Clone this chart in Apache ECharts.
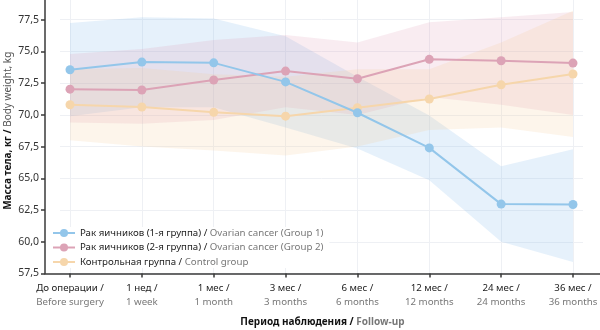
<!DOCTYPE html>
<html>
<head>
<meta charset="utf-8">
<script src="https://cdn.jsdelivr.net/npm/echarts@6/dist/echarts.min.js"></script>
<style>
html,body{margin:0;padding:0;background:#fff;}
#c{width:600px;height:330px;}
</style>
</head>
<body>
<div id="c"></div>
<script>
// ---- data ----
const catRu = ['До операции /', '1 нед /', '1 мес /', '3 мес /', '6 мес /', '12 мес /', '24 мес /', '36 мес /'];
const catEn = ['Before surgery', '1 week', '1 month', '3 months', '6 months', '12 months', '24 months', '36 months'];

const g1Mean = [73.56, 74.16, 74.10, 72.60, 70.17, 67.40, 62.97, 62.94];
const g1Low  = [69.90, 70.60, 70.60, 69.00, 67.35, 64.85, 60.00, 58.40];
const g1High = [77.25, 77.70, 77.60, 76.20, 73.00, 69.95, 65.95, 67.30];

const g2Mean = [72.03, 71.96, 72.75, 73.45, 72.85, 74.38, 74.27, 74.08];
const g2Low  = [69.40, 69.30, 69.60, 70.60, 70.00, 71.40, 70.80, 70.00];
const g2High = [74.80, 75.20, 75.90, 76.30, 75.70, 77.30, 77.70, 78.10];

const g3Mean = [70.80, 70.62, 70.20, 69.90, 70.56, 71.25, 72.37, 73.22];
const g3Low  = [68.00, 67.50, 67.20, 66.80, 67.50, 68.80, 69.00, 68.25];
const g3High = [73.60, 73.70, 73.20, 73.00, 73.60, 73.60, 75.70, 78.20];

const seriesRu = ['Рак яичников (1-я группа)', 'Рак яичников (2-я группа)', 'Контрольная группа'];
const seriesEn = ['Ovarian cancer (Group 1)', 'Ovarian cancer (Group 2)', 'Control group'];

const yTicks = [57.5, 60, 62.5, 65, 67.5, 70, 72.5, 75, 77.5];

// ---- styling ----
const FONT = 'Noto Sans';
const FS = 9.7;
const lineColors = ['#93c6ea', '#dca3b6', '#f6d6ab'];
const bandColors = ['rgba(120,180,235,0.19)', 'rgba(220,140,170,0.17)', 'rgba(245,200,150,0.19)'];

const means = [g1Mean, g2Mean, g3Mean];
const lows = [g1Low, g2Low, g3Low];
const highs = [g1High, g2High, g3High];

const Y_MIN = 57.5, Y_MAX = 80;
const TOP = -12, BOTTOM = 56.5;

const series = [];
for (let i = 0; i < 3; i++) {
  series.push({
    type: 'line', xAxisIndex: 2, yAxisIndex: 2, stack: 'band' + i,
    data: lows[i], symbol: 'none', lineStyle: {opacity: 0}, silent: true, z: 1
  });
  series.push({
    type: 'line', xAxisIndex: 2, yAxisIndex: 2, stack: 'band' + i,
    data: highs[i].map((h, k) => +(h - lows[i][k]).toFixed(3)),
    symbol: 'none', lineStyle: {opacity: 0},
    areaStyle: {color: bandColors[i], opacity: 1}, silent: true, z: 1
  });
}
const meanOrder = [2, 1, 0];
for (const i of meanOrder) {
  series.push({
    name: seriesRu[i], type: 'line', xAxisIndex: 2, yAxisIndex: 2,
    data: means[i], symbol: 'circle', symbolSize: 9,
    lineStyle: {color: lineColors[i], width: 2},
    itemStyle: {color: lineColors[i]}, z: 3
  });
}

const gridBase = {top: TOP, bottom: BOTTOM, outerBoundsMode: 'none', containLabel: false};

const chart = echarts.init(document.getElementById('c'), null, {renderer: 'canvas'});
chart.setOption({
  backgroundColor: '#fff',
  animation: false,
  textStyle: {fontFamily: FONT},
  grid: [
    Object.assign({left: 45, right: 0}, gridBase),
    Object.assign({left: 60, right: 17}, gridBase),
    Object.assign({left: 70, right: 27}, gridBase)
  ],
  xAxis: [
    {
      gridIndex: 0, type: 'value', min: 0, max: 1,
      axisLine: {show: true, lineStyle: {color: '#3a3a3a', width: 1.5}},
      axisTick: {show: false}, axisLabel: {show: false}, splitLine: {show: false},
      name: '{a|Период наблюдения / }{b|Follow-up}',
      nameLocation: 'middle', nameGap: 44, nameMoveOverlap: false,
      nameTextStyle: {rich: {
        a: {fontFamily: FONT, fontSize: 10, fontWeight: 'bold', color: '#111'},
        b: {fontFamily: FONT, fontSize: 10, fontWeight: 'bold', color: '#777'}
      }}
    },
    {gridIndex: 1, type: 'value', min: 0, max: 1, show: false},
    {
      gridIndex: 2, type: 'category', data: catRu, boundaryGap: false,
      axisLine: {show: false},
      axisTick: {show: true, length: 4, lineStyle: {color: '#3a3a3a', width: 1.5}},
      splitLine: {show: true, lineStyle: {color: '#eef0f4', width: 1}},
      axisLabel: {
        interval: 0, margin: 8,
        formatter: (v, idx) => '{a|' + catRu[idx] + '}\n{b|' + catEn[idx] + '}',
        rich: {
          a: {fontFamily: FONT, fontSize: FS, color: '#222', lineHeight: 14},
          b: {fontFamily: FONT, fontSize: FS, color: '#777', lineHeight: 14}
        }
      }
    }
  ],
  yAxis: [
    {
      gridIndex: 0, type: 'value', min: Y_MIN, max: Y_MAX, interval: 2.5,
      axisLine: {show: true, lineStyle: {color: '#3a3a3a', width: 1.5}},
      axisTick: {show: true, length: 4, lineStyle: {color: '#3a3a3a', width: 1.5}},
      splitLine: {show: false},
      axisLabel: {
        margin: 6, fontFamily: FONT, fontSize: 10.5, color: '#333',
        formatter: v => yTicks.includes(v) ? v.toFixed(1).replace('.', ',') : ''
      },
      name: '{a|Масса тела, кг / }{b|Body weight, kg}',
      nameLocation: 'middle', nameGap: 32, nameRotate: 90, nameMoveOverlap: false,
      nameTextStyle: {rich: {
        a: {fontFamily: FONT, fontSize: 10, fontWeight: 'bold', color: '#111'},
        b: {fontFamily: FONT, fontSize: 10, color: '#555'}
      }}
    },
    {
      gridIndex: 1, type: 'value', min: Y_MIN, max: Y_MAX, interval: 2.5,
      axisLine: {show: false}, axisTick: {show: false}, axisLabel: {show: false},
      splitLine: {show: true, lineStyle: {color: '#eef0f4', width: 1}}
    },
    {
      gridIndex: 2, type: 'value', min: Y_MIN, max: Y_MAX, interval: 2.5, show: false,
      splitLine: {show: false}
    }
  ],
  legend: {
    data: seriesRu.slice(),
    orient: 'vertical', left: 48, top: 227,
    itemWidth: 22, itemHeight: 10, itemGap: 4.5,
    backgroundColor: '#fff', padding: [1, 6, 1, 4],
    formatter: name => {
      const i = seriesRu.indexOf(name);
      return '{a|' + seriesRu[i] + ' / }{b|' + seriesEn[i] + '}';
    },
    textStyle: {
      fontFamily: FONT, fontSize: FS,
      rich: {a: {fontFamily: FONT, fontSize: FS, color: '#222'}, b: {fontFamily: FONT, fontSize: FS, color: '#777'}}
    }
  },
  series: series
});
</script>
</body>
</html>
